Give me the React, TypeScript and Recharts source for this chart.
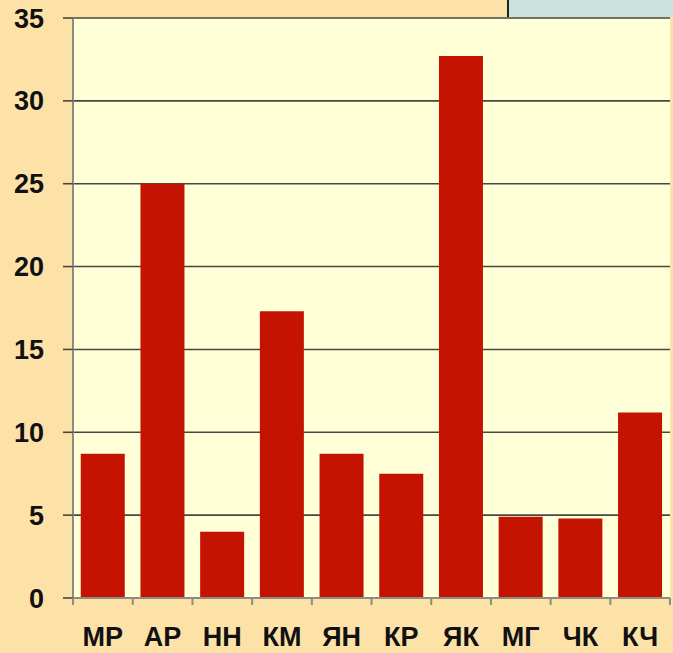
import { BarChart, Bar, XAxis, YAxis, CartesianGrid } from 'recharts';

const categories = ['МР', 'АР', 'НН', 'КМ', 'ЯН', 'КР', 'ЯК', 'МГ', 'ЧК', 'КЧ'];
const values = [8.7, 25.0, 4.0, 17.3, 8.7, 7.5, 32.7, 4.9, 4.8, 11.2];
const yTicks = [0, 5, 10, 15, 20, 25, 30, 35];

const data = categories.map((name, i) => ({ name, value: values[i] }));

const font = '"Liberation Sans", Arial, sans-serif';
const axisGray = '#8C8C80';

// x tick: label at the category centre, tick mark at the category boundary
function CategoryTick(props: any) {
  const { x, y, payload, index, visibleTicksCount } = props;
  const half = 596 / categories.length / 2;
  const top = y - 29;
  return (
    <g>
      <line x1={x - half} x2={x - half} y1={top} y2={top + 7} stroke={axisGray} strokeWidth={2} />
      {index === visibleTicksCount - 1 && (
        <line x1={x + half} x2={x + half} y1={top} y2={top + 7} stroke={axisGray} strokeWidth={2} />
      )}
      <text
        x={x}
        y={y}
        dy="0.71em"
        textAnchor="middle"
        fill="#111"
        fontSize={27}
        fontWeight={700}
        fontFamily={font}
      >
        {payload.value}
      </text>
    </g>
  );
}

export default function App() {
  return (
    <div
      style={{
        position: 'absolute',
        left: 0,
        top: 0,
        width: 673,
        height: 653,
        background: '#FDE2A8',
        overflow: 'hidden',
      }}
    >
      {/* bluish strip in top right corner */}
      <div
        style={{
          position: 'absolute',
          left: 507,
          top: 0,
          width: 166,
          height: 17,
          background: '#C9E2DB',
          borderLeft: '2px solid #222',
          boxSizing: 'border-box',
        }}
      />
      <BarChart
        width={673}
        height={653}
        data={data}
        margin={{ top: 18, right: 3, left: 0, bottom: 0 }}
        barCategoryGap="13%"
        style={{ position: 'absolute', left: 0, top: 0 }}
      >
        <CartesianGrid
          vertical={false}
          fill="#FFFFD8"
          stroke="#474742"
          strokeWidth={1.6}
        />
        <XAxis
          dataKey="name"
          height={55}
          interval={0}
          tickSize={7}
          tickMargin={22}
          axisLine={{ stroke: axisGray, strokeWidth: 2 }}
          tickLine={false}
          tick={<CategoryTick />}
        />
        <YAxis
          width={73}
          domain={[0, 35]}
          ticks={yTicks}
          interval={0}
          tickSize={10}
          tickMargin={19}
          axisLine={{ stroke: axisGray, strokeWidth: 2 }}
          tickLine={{ stroke: '#474742', strokeWidth: 1.6 }}
          tick={{ fill: '#111', fontSize: 27, fontWeight: 700, fontFamily: font }}
        />
        <Bar dataKey="value" fill="#C41300" isAnimationActive={false} />
      </BarChart>
    </div>
  );
}
